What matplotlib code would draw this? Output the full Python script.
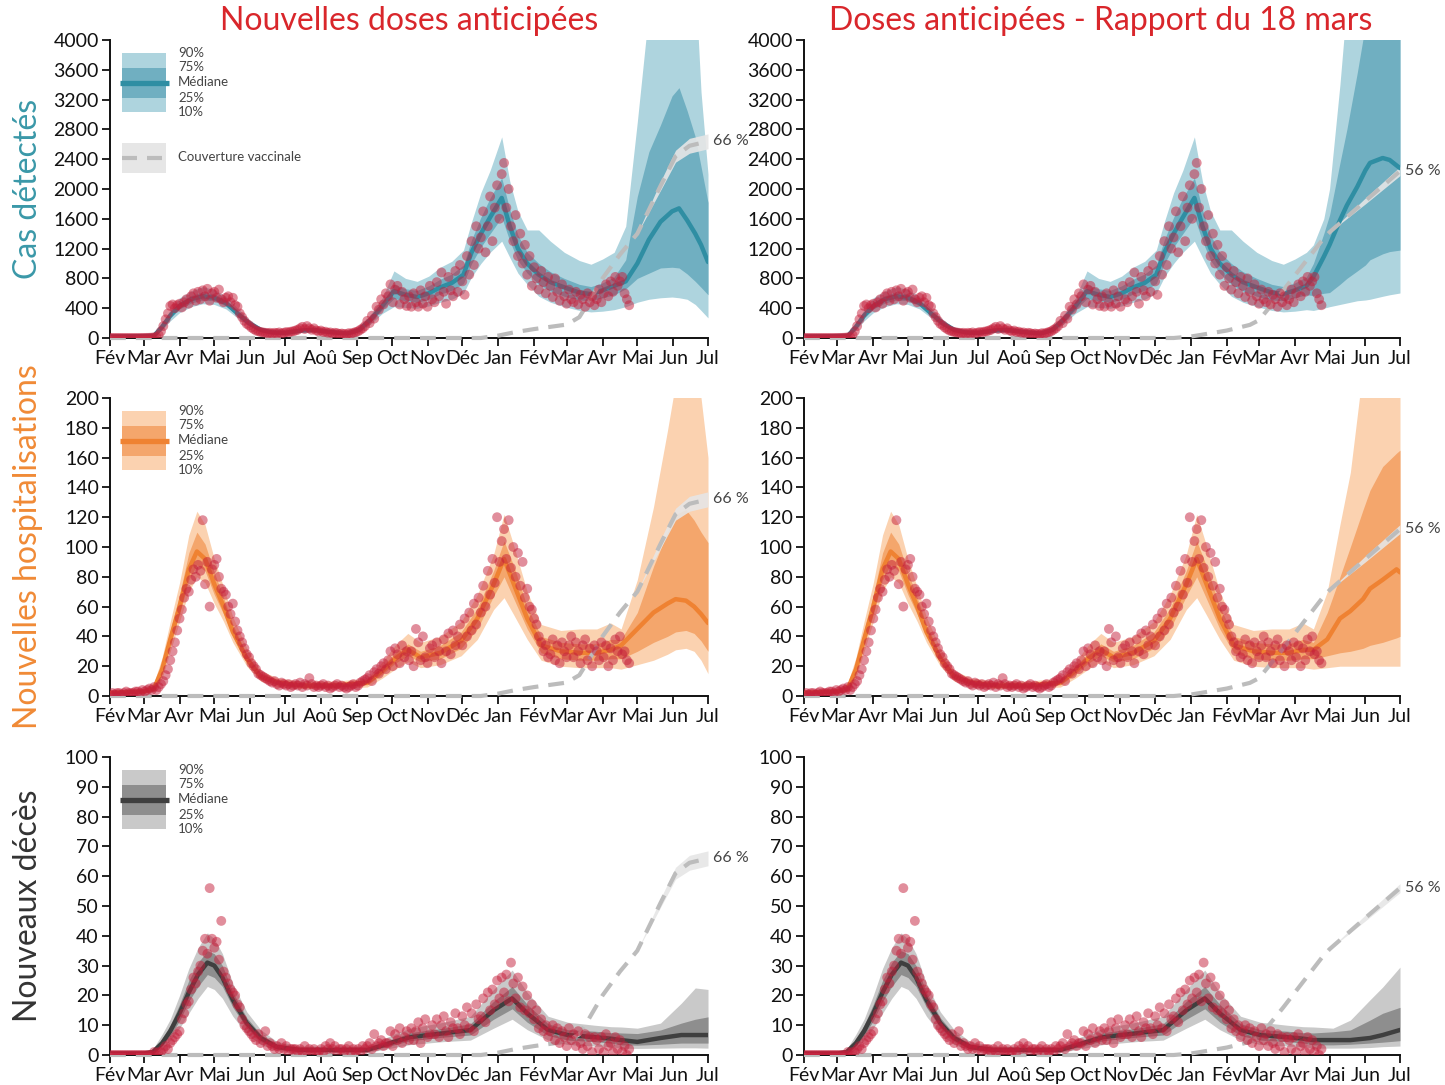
import numpy as np
import matplotlib
matplotlib.use("Agg")
import matplotlib.pyplot as plt
from matplotlib.patches import Rectangle

plt.rcParams['font.family'] = ['Lato', 'DejaVu Sans']

# ---------------- axis labels ----------------
month_labels = ['Fév', 'Mar', 'Avr', 'Mai', 'Jun', 'Jul', 'Aoû', 'Sep', 'Oct', 'Nov', 'Déc',
                'Jan', 'Fév', 'Mar', 'Avr', 'Mai', 'Jun', 'Jul']
col_titles = ['Nouvelles doses anticipées', 'Doses anticipées - Rapport du 18 mars']
row_titles = ['Cas détectés', 'Nouvelles hospitalisations', 'Nouveaux décès']
legend_labels = ['90%', '75%', 'Médiane', '25%', '10%']
vacc_label = 'Couverture vaccinale'

# day index counted from 2020-02-01
START = np.datetime64('2020-02-01')

# ---------------- observations (every 2 days, from day 0) ----------------
obs_day = list(range(0, 449, 2))
cas_obs = [0, 0, 0, 0, 0, 0, 0, 0, 0, 0,
           0, 0, 0, 0, 1, 1, 2, 3, 5, 8,
           15, 40, 90, 160, 250, 330, 430, 450, 400, 440,
           460, 410, 480, 520, 460, 560, 600, 500, 620, 520,
           640, 560, 660, 500, 600, 620, 540, 650, 520, 480,
           540, 560, 480, 540, 440, 420, 330, 280, 230, 190,
           170, 140, 120, 100, 90, 80, 75, 70, 65, 70,
           60, 70, 65, 75, 60, 70, 80, 75, 85, 90,
           100, 110, 130, 150, 120, 160, 130, 110, 130, 100,
           90, 100, 80, 85, 70, 75, 60, 70, 65, 55,
           60, 55, 50, 65, 60, 70, 80, 90, 110, 130,
           160, 230, 200, 300, 260, 420, 380, 520, 450, 600,
           560, 720, 480, 650, 700, 450, 620, 520, 430, 560,
           420, 600, 480, 420, 640, 460, 560, 420, 700, 520,
           480, 750, 560, 880, 620, 460, 820, 640, 560, 900,
           620, 980, 760, 580, 1100, 850, 1300, 980, 1500, 1200,
           1350, 1700, 1150, 1500, 1900, 1300, 1750, 2050, 1600, 2200,
           2350, 1750, 2000, 1500, 1300, 1650, 1100, 1400, 1000, 1250,
           850, 1100, 700, 950, 800, 650, 900, 750, 600, 820,
           700, 550, 800, 620, 500, 720, 560, 460, 650, 520,
           480, 620, 450, 580, 520, 420, 600, 480, 560, 440,
           520, 650, 480, 600, 720, 560, 760, 620, 820, 700,
           760, 820, 600, 520, 440]
hosp_obs = [1, 2, 1, 2, 2, 1, 2, 3, 2, 2,
            2, 3, 3, 2, 4, 3, 4, 5, 4, 6,
            4, 6, 8, 10, 14, 18, 24, 30, 36, 44,
            52, 58, 66, 72, 70, 78, 85, 80, 88, 84,
            118, 75, 90, 60, 85, 88, 92, 80, 72, 70,
            68, 60, 55, 62, 50, 44, 40, 36, 32, 28,
            26, 22, 20, 18, 15, 14, 13, 12, 11, 10,
            9, 10, 8, 7, 9, 8, 7, 8, 6, 7,
            8, 7, 9, 6, 8, 7, 12, 8, 6, 7,
            6, 7, 8, 6, 7, 5, 6, 7, 8, 6,
            7, 6, 5, 6, 7, 8, 6, 7, 9, 10,
            11, 12, 14, 10, 16, 18, 15, 20, 22, 18,
            24, 30, 20, 32, 28, 22, 34, 26, 30, 24,
            30, 20, 45, 36, 24, 40, 26, 22, 32, 34,
            26, 36, 30, 22, 38, 30, 42, 28, 44, 34,
            40, 48, 34, 52, 40, 56, 44, 62, 48, 66,
            56, 74, 60, 84, 68, 92, 76, 120, 90, 104,
            112, 92, 118, 86, 100, 80, 96, 74, 90, 66,
            72, 60, 58, 52, 48, 40, 36, 30, 34, 26,
            28, 38, 24, 34, 22, 36, 30, 26, 34, 40,
            26, 36, 30, 22, 34, 38, 24, 32, 20, 34,
            30, 24, 36, 26, 34, 20, 32, 24, 38, 30,
            40, 28, 30, 24, 22]
deces_obs = [0, 0, 0, 0, 0, 0, 0, 0, 0, 0,
             0, 0, 0, 0, 0, 0, 0, 0, 0, 1,
             0, 1, 1, 2, 3, 2, 4, 5, 6, 7,
             8, 12, 14, 17, 18, 22, 26, 24, 28, 30,
             35, 39, 34, 56, 39, 36, 38, 32, 45, 28,
             26, 24, 22, 21, 20, 17, 16, 12, 10, 9,
             8, 7, 6, 5, 7, 4, 5, 8, 3, 4,
             3, 2, 3, 2, 4, 2, 3, 1, 2, 2,
             2, 1, 2, 1, 3, 1, 2, 1, 2, 1,
             1, 2, 1, 3, 2, 4, 2, 3, 1, 2,
             2, 1, 2, 3, 1, 2, 1, 2, 1, 3,
             2, 3, 4, 2, 7, 3, 4, 5, 3, 4,
             4, 8, 3, 7, 5, 9, 4, 6, 8, 5,
             9, 5, 8, 11, 4, 9, 12, 6, 7, 10,
             7, 12, 6, 10, 13, 8, 6, 11, 9, 14,
             9, 7, 13, 10, 16, 9, 14, 8, 17, 12,
             13, 19, 11, 21, 15, 22, 17, 25, 19, 26,
             21, 27, 18, 31, 24, 19, 26, 16, 23, 15,
             20, 14, 17, 12, 15, 9, 12, 8, 10, 6,
             8, 10, 5, 9, 4, 8, 6, 3, 9, 5,
             7, 3, 8, 4, 2, 7, 3, 6, 1, 6,
             5, 2, 6, 1, 7, 3, 4, 1, 6, 2,
             5, 1, 3, 0, 2]

# ---------------- model: cases ----------------
cas_hist_day = [0, 29, 38, 45, 52, 60, 70, 80, 90, 100, 110, 120, 130, 140, 151, 165, 175, 190, 205, 215,
                225, 235, 245, 255, 265, 275, 285, 295, 305, 312, 320, 328, 338, 345, 352, 360, 370, 380, 392, 405,
                415, 425, 435]
cas_hist_med = [20, 25, 30, 150, 300, 430, 520, 560, 540, 470, 330, 200, 110, 75, 70, 100, 110, 80, 60, 110,
                250, 430, 630, 580, 550, 600, 680, 740, 850, 1150, 1400, 1620, 1880, 1500, 1200, 1000, 850, 750, 680, 610,
                590, 640, 700]
cas_hist_q10 = [10, 15, 20, 110, 230, 340, 420, 460, 450, 390, 270, 160, 85, 55, 50, 75, 80, 60, 45, 80,
                190, 330, 420, 410, 400, 430, 480, 520, 600, 820, 1000, 1150, 1300, 1080, 870, 720, 560, 480, 420, 370,
                350, 360, 380]
cas_hist_q25 = [15, 20, 25, 130, 270, 390, 470, 510, 500, 430, 300, 180, 100, 65, 60, 88, 95, 70, 52, 95,
                220, 380, 530, 500, 480, 520, 590, 640, 730, 1000, 1220, 1400, 1620, 1300, 1040, 870, 720, 630, 560, 510,
                500, 540, 580]
cas_hist_q75 = [25, 30, 40, 170, 340, 480, 570, 620, 590, 510, 360, 220, 125, 85, 80, 115, 125, 90, 70, 125,
                280, 480, 720, 660, 640, 700, 790, 860, 980, 1320, 1620, 1880, 2150, 1720, 1380, 1150, 1000, 890, 800, 720,
                690, 740, 820]
cas_hist_q90 = [30, 35, 50, 200, 380, 540, 630, 690, 650, 560, 400, 250, 140, 100, 95, 130, 145, 105, 80, 145,
                320, 540, 900, 800, 760, 830, 950, 1030, 1180, 1560, 1950, 2250, 2700, 2100, 1700, 1450, 1450, 1300, 1150, 1040,
                990, 1060, 1150]

cas_new_day = [445, 455, 465, 475, 485, 491, 498, 505, 510, 516]
cas_new_med = [760, 1000, 1320, 1560, 1700, 1740, 1580, 1400, 1250, 1020]
cas_new_q10 = [420, 480, 520, 540, 550, 540, 520, 450, 370, 270]
cas_new_q25 = [660, 800, 870, 940, 950, 940, 860, 760, 680, 580]
cas_new_q75 = [1050, 1900, 2500, 2860, 3250, 3360, 3050, 2700, 2300, 1820]
cas_new_q90 = [1500, 2900, 4400, 5000, 6000, 6000, 6000, 4800, 3300, 2200]

cas_m18_day = [441, 450, 455, 464, 470, 479, 486, 490, 501, 507, 516]
cas_m18_med = [820, 1090, 1250, 1580, 1780, 2030, 2250, 2350, 2416, 2390, 2280]
cas_m18_q10 = [370, 400, 420, 450, 470, 500, 510, 520, 560, 580, 604]
cas_m18_q25 = [570, 600, 610, 720, 800, 900, 980, 1050, 1130, 1160, 1180]
cas_m18_q75 = [1000, 1400, 1650, 2350, 2800, 3560, 4200, 4600, 5500, 6000, 6500]
cas_m18_q90 = [1250, 1600, 2000, 3400, 4500, 6000, 7000, 7500, 9000, 9500, 10000]

# ---------------- model: hospitalisations ----------------
hosp_hist_day = [0, 29, 38, 45, 52, 60, 68, 75, 82, 90, 98, 106, 118, 130, 145, 165, 195, 222, 235, 246,
                 257, 268, 285, 303, 317, 331, 340, 348, 360, 372, 389, 405, 420, 432]
hosp_hist_med = [2, 3, 5, 18, 38, 60, 85, 97, 92, 75, 60, 43, 25, 13, 9, 7, 7, 9, 17, 25,
                 31, 26, 29, 37, 52, 75, 92, 76, 52, 34, 30, 29, 29, 31]
hosp_hist_q10 = [1, 2, 3, 12, 30, 50, 70, 80, 76, 62, 50, 36, 20, 10, 6, 5, 5, 6, 12, 18,
                 23, 19, 21, 27, 38, 58, 66, 55, 38, 24, 20, 19, 19, 19]
hosp_hist_q25 = [1.5, 2.5, 4, 15, 34, 55, 78, 88, 84, 68, 55, 40, 22, 11.5, 7.5, 6, 6, 7.5, 14.5, 22,
                 27, 23, 25, 32, 45, 67, 80, 66, 45, 29, 25, 24, 24, 25]
hosp_hist_q75 = [3, 4, 7, 22, 44, 68, 96, 110, 102, 83, 66, 48, 28, 15, 10.5, 8.5, 8.5, 10.5, 20, 29,
                 35, 30, 34, 43, 59, 84, 104, 88, 60, 40, 36, 35, 35, 38]
hosp_hist_q90 = [4, 5, 9, 26, 50, 76, 108, 124, 115, 92, 73, 53, 32, 17, 12, 10, 10, 12, 23, 34,
                 42, 36, 40, 50, 68, 95, 122, 102, 70, 48, 44, 45, 45, 49]

hosp_new_day = [441, 455, 469, 481, 488, 497, 504, 510, 516]
hosp_new_med = [34, 45, 56, 62, 65, 64, 60, 55, 49]
hosp_new_q10 = [18, 21, 24, 28, 31, 32, 30, 24, 15]
hosp_new_q25 = [25, 30, 36, 40, 43, 44, 42, 37, 30]
hosp_new_q75 = [38, 56, 87, 110, 122, 125, 118, 110, 103]
hosp_new_q90 = [45, 78, 127, 178, 210, 220, 215, 200, 160]

hosp_m18_day = [441, 453, 464, 473, 484, 490, 501, 513, 516]
hosp_m18_med = [31, 38, 52, 57, 65, 72, 78, 85, 83]
hosp_m18_q10 = [18, 19, 20, 20, 20, 20, 20, 20, 20]
hosp_m18_q25 = [25, 27, 29, 30, 32, 34, 36, 39, 40]
hosp_m18_q75 = [36, 56, 80, 100, 125, 138, 154, 163, 165]
hosp_m18_q90 = [45, 70, 115, 150, 220, 240, 260, 280, 280]

# ---------------- model: deaths ----------------
deces_hist_day = [0, 29, 37, 45, 52, 60, 68, 76, 84, 90, 97, 106, 118, 130, 144, 164, 222, 245, 259, 288,
                  311, 331, 347, 360, 378, 395, 418, 432]
deces_hist_med = [0.5, 0.5, 1, 4, 8, 14, 21, 27, 31, 30, 26, 18.5, 10.7, 5.7, 2.7, 1.7, 1.7, 4.4, 6, 7.3,
                  8.4, 15, 19, 14, 8.4, 6.7, 6, 5.5]
deces_hist_q10 = [0, 0, 0.3, 2, 5, 9, 14, 19, 23, 22, 19, 13, 7, 3.5, 1.5, 0.8, 0.8, 2.5, 3.5, 4.5,
                  5, 9, 12, 8.5, 5, 3.5, 3, 2.8]
deces_hist_q25 = [0.2, 0.2, 0.6, 3, 6.5, 11.5, 18, 23, 27, 26, 23, 16, 9, 4.5, 2, 1.2, 1.2, 3.4, 4.8, 6,
                  6.7, 12, 15.5, 11, 6.5, 5, 4.5, 4]
deces_hist_q75 = [0.8, 0.8, 1.5, 5.5, 10, 17, 25, 31, 35, 34, 30, 21, 12.5, 7, 3.5, 2.3, 2.3, 5.5, 7.5, 9,
                  10.5, 18, 23, 17, 10.5, 8.5, 8, 7.5]
deces_hist_q90 = [1.2, 1.2, 2, 7, 12, 20, 29, 36, 41, 39, 34, 24, 14.5, 8.5, 4.5, 3, 3, 7, 9, 11,
                  13, 22, 28.5, 21, 13, 11, 10, 9.5]

deces_new_day = [441, 455, 475, 493, 505, 516]
deces_new_med = [5, 4.4, 5.7, 6.7, 6.7, 6.7]
deces_new_q10 = [2.3, 2.2, 2.3, 2.4, 2.4, 2.3]
deces_new_q25 = [3.4, 3.3, 3.6, 4, 4, 4]
deces_new_q75 = [7.4, 7.2, 8.4, 10.7, 12, 12.8]
deces_new_q90 = [9.4, 9, 10.7, 17.4, 22.5, 22]

deces_m18_day = [441, 458, 473, 490, 501, 516]
deces_m18_med = [5, 5, 5, 5.7, 6.7, 8.4]
deces_m18_q10 = [2.3, 2.3, 2.3, 2.5, 2.8, 3]
deces_m18_q25 = [3.4, 3.4, 3.6, 4, 4.3, 4.8]
deces_m18_q75 = [7.4, 7.8, 8.4, 11.7, 14, 16]
deces_m18_q90 = [9.4, 9, 11.7, 18.5, 22.8, 29.5]

# ---------------- vaccination coverage (%) ----------------
vacc_new_day = [0, 320, 335, 350, 366, 394, 405, 413, 425, 440, 455, 465, 475, 488, 500, 516]
vacc_new_pct = [0, 0, 0.8, 2, 3, 4.5, 7, 12, 20, 28, 35, 43, 51, 61, 64.5, 66]
vacc_new_band_day = [455, 475, 488, 500, 516]
vacc_new_lo = [35, 49.5, 59, 62, 63.5]
vacc_new_hi = [35, 52.5, 63, 67, 68.5]

vacc_m18_day = [0, 320, 335, 343, 366, 386, 394, 415, 425, 449, 455, 486, 516]
vacc_m18_pct = [0, 0, 0.5, 1, 2.5, 4.4, 6, 16, 21, 33, 35.5, 46, 56]
vacc_m18_band_day = [455, 486, 516]
vacc_m18_lo = [35.5, 45, 54.5]
vacc_m18_hi = [35.5, 47, 57.5]

# ---------------- styling ----------------
W, H = 1445, 1085
COL_X = [110, 804]
COL_W = [598, 596]
ROW_Y = [40, 398, 757]
ROW_H = 298

row_cfg = [
    dict(ymax=4000, step=400, light='#aed4de', dark='#70afc1', med='#2f8ea3', title_color='#3a98a8'),
    dict(ymax=200, step=20, light='#fbd2b0', dark='#f4a66c', med='#ef8232', title_color='#f08a36'),
    dict(ymax=100, step=10, light='#c9c9c9', dark='#8e8e8e', med='#3f3f3f', title_color='#333333'),
]
POINT_COLOR = '#c41e3a'
VACC_COLOR = '#bcbcbc'
VACC_BAND = '#e6e6e6'
TITLE_RED = '#d9262b'

models = [
    [(cas_hist_day, cas_hist_med, cas_hist_q10, cas_hist_q25, cas_hist_q75, cas_hist_q90),
     (cas_new_day, cas_new_med, cas_new_q10, cas_new_q25, cas_new_q75, cas_new_q90),
     (cas_m18_day, cas_m18_med, cas_m18_q10, cas_m18_q25, cas_m18_q75, cas_m18_q90)],
    [(hosp_hist_day, hosp_hist_med, hosp_hist_q10, hosp_hist_q25, hosp_hist_q75, hosp_hist_q90),
     (hosp_new_day, hosp_new_med, hosp_new_q10, hosp_new_q25, hosp_new_q75, hosp_new_q90),
     (hosp_m18_day, hosp_m18_med, hosp_m18_q10, hosp_m18_q25, hosp_m18_q75, hosp_m18_q90)],
    [(deces_hist_day, deces_hist_med, deces_hist_q10, deces_hist_q25, deces_hist_q75, deces_hist_q90),
     (deces_new_day, deces_new_med, deces_new_q10, deces_new_q25, deces_new_q75, deces_new_q90),
     (deces_m18_day, deces_m18_med, deces_m18_q10, deces_m18_q25, deces_m18_q75, deces_m18_q90)],
]
observations = [cas_obs, hosp_obs, deces_obs]
vaccs = [(vacc_new_day, vacc_new_pct, vacc_new_band_day, vacc_new_lo, vacc_new_hi),
         (vacc_m18_day, vacc_m18_pct, vacc_m18_band_day, vacc_m18_lo, vacc_m18_hi)]

month_starts = np.arange(np.datetime64('2020-02'), np.datetime64('2021-08'),
                         np.timedelta64(1, 'M')).astype('datetime64[D]')
tick_days = (month_starts - START).astype(int)
XMAX = tick_days[-1]

fig = plt.figure(figsize=(W / 100, H / 100), dpi=100)


def add_legend(ax, cfg, aw, ah, with_vacc):
    def P(dx, dy):
        return dx / aw, 1 - dy / ah
    x, y = P(12, 72)
    ax.add_patch(Rectangle((x, y), 44 / aw, 59 / ah, transform=ax.transAxes,
                           fc=cfg['light'], ec='none', zorder=10, clip_on=False))
    x, y = P(12, 58)
    ax.add_patch(Rectangle((x, y), 44 / aw, 30 / ah, transform=ax.transAxes,
                           fc=cfg['dark'], ec='none', zorder=11, clip_on=False))
    ax.plot([10 / aw, 59 / aw], [1 - 43 / ah] * 2, transform=ax.transAxes, color=cfg['med'],
            lw=3.8, solid_capstyle='butt', zorder=12, clip_on=False)
    for txt, dy in zip(legend_labels, [13, 27, 42, 58, 72]):
        ax.text(68 / aw, 1 - dy / ah, txt, transform=ax.transAxes, fontsize=9.5,
                va='center', ha='left', color='#444444', zorder=12)
    if with_vacc:
        x, y = P(12, 133)
        ax.add_patch(Rectangle((x, y), 44 / aw, 30 / ah, transform=ax.transAxes,
                               fc=VACC_BAND, ec='none', zorder=10, clip_on=False))
        ax.plot([12 / aw, 56 / aw], [1 - 118 / ah] * 2, transform=ax.transAxes, color=VACC_COLOR,
                lw=3, dashes=(3.6, 2.4), zorder=11, clip_on=False)
        ax.text(68 / aw, 1 - 117 / ah, vacc_label, transform=ax.transAxes, fontsize=9.5,
                va='center', ha='left', color='#444444', zorder=12)


for r in range(3):
    cfg = row_cfg[r]
    hist = models[r][0]
    for c in range(2):
        aw, ah = COL_W[c], ROW_H
        ax = fig.add_axes([COL_X[c] / W, 1 - (ROW_Y[r] + ah) / H, aw / W, ah / H])
        proj = models[r][1 + c]
        d = np.array(list(hist[0]) + list(proj[0]), dtype=float)
        med, q10, q25, q75, q90 = [np.array(list(hist[k]) + list(proj[k]), dtype=float) for k in range(1, 6)]

        ax.fill_between(d, q10, q90, color=cfg['light'], lw=0, zorder=1)
        ax.fill_between(d, q25, q75, color=cfg['dark'], lw=0, zorder=2)

        # vaccination coverage scaled to the axis height
        vd, vp, vbd, vlo, vhi = vaccs[c]
        scale = cfg['ymax'] / 100.0
        ax.fill_between(vbd, np.array(vlo) * scale, np.array(vhi) * scale,
                        color=VACC_BAND, lw=0, zorder=3, alpha=0.9)
        ax.plot(vd, np.array(vp) * scale, color=VACC_COLOR, lw=3, dashes=(3.8, 2.4), zorder=5,
                clip_on=False)
        ax.text(vd[-1] + 4, vp[-1] * scale, f"{int(round(vp[-1]))} %", fontsize=11.5,
                color='#444444', va='center', ha='left', clip_on=False)

        ax.plot(d, med, color=cfg['med'], lw=3.2, zorder=4, solid_capstyle='round')
        ax.scatter(obs_day, observations[r], s=50, color=POINT_COLOR, alpha=0.5,
                   edgecolors='none', zorder=6)

        ax.set_xlim(0, XMAX)
        ax.set_ylim(0, cfg['ymax'])
        ax.set_xticks(tick_days)
        ax.set_xticklabels(month_labels)
        ax.set_yticks(np.arange(0, cfg['ymax'] + 1, cfg['step']))
        for s in ['top', 'right']:
            ax.spines[s].set_visible(False)
        for s in ['left', 'bottom']:
            ax.spines[s].set_linewidth(1.4)
            ax.spines[s].set_color('#111111')
        ax.tick_params(axis='both', direction='out', length=6, width=1.3, labelsize=14,
                       colors='#111111')
        ax.tick_params(axis='y', pad=2)
        ax.tick_params(axis='x', pad=12.5)
        for lbl in ax.get_xticklabels():
            lbl.set_verticalalignment('baseline')
        ax.patch.set_alpha(0)

        if c == 0:
            add_legend(ax, cfg, aw, ah, with_vacc=(r == 0))

    fig.text(28 / W, 1 - (ROW_Y[r] + ROW_H / 2) / H, row_titles[r], rotation=90,
             fontsize=23, color=cfg['title_color'], ha='center', va='center')

fig.text(409 / W, 1 - 21 / H, col_titles[0], fontsize=23, color=TITLE_RED, ha='center', va='center')
fig.text(1101 / W, 1 - 21 / H, col_titles[1], fontsize=23, color=TITLE_RED, ha='center', va='center')

fig.savefig('out.png', dpi=100)
